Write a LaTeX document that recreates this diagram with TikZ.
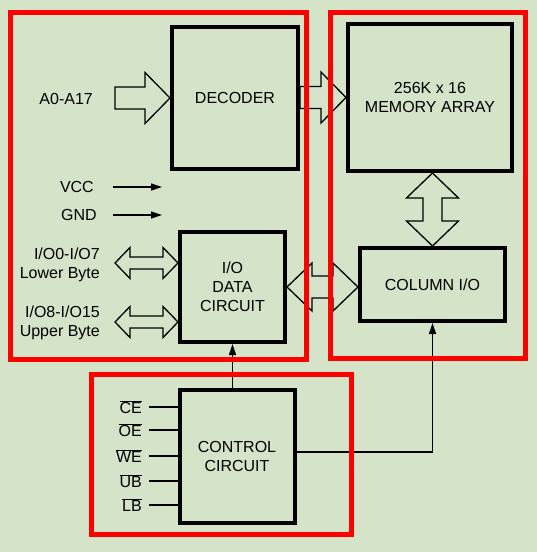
\documentclass[tikz,border=0pt]{standalone}
\usepackage{fontspec}
\setmainfont{Liberation Sans}
\usetikzlibrary{arrows.meta,calc}
\definecolor{bggreen}{RGB}{213,227,201}
\definecolor{framered}{RGB}{255,0,0}

\begin{document}
\begin{tikzpicture}[x=1pt, y=-1pt, >={Triangle[length=11pt,width=7pt]},
  font=\fontsize{16}{19}\selectfont,
  block/.style={draw, line width=4pt, fill=bggreen, align=center, inner sep=0pt},
  frame/.style={draw=framered, line width=5pt},
  fat/.style={draw, line width=1.3pt, fill=bggreen, line join=miter},
  sig/.style={line width=1.3pt},
  lbl/.style={anchor=east, inner sep=0pt, align=right}]
\fill[bggreen] (0,0) rectangle (537,552);
\useasboundingbox (0,0) rectangle (537,552);
% blocks
\node[block, minimum width=126pt, minimum height=142pt] (dec) at (235,98) {DECODER};
\node[block, minimum width=164pt, minimum height=147pt] (mem) at (430,97.5) {256K x 16\\MEMORY ARRAY};
\node[block, minimum width=145pt, minimum height=73pt] (col) at (432.5,284.5) {COLUMN I/O};
\node[block, minimum width=105pt, minimum height=110pt] (iod) at (232.5,287) {I/O\\DATA\\CIRCUIT};
\node[block, minimum width=115pt, minimum height=133pt] (ctl) at (237,456.5) {CONTROL\\CIRCUIT};
% labels on the left
\node[lbl] (addr) at (93,99) {A0-A17};
\node[lbl] (vcc) at (94,187) {VCC};
\node[lbl] (gnd) at (97,215) {GND};
\node[lbl] (lobyte) at (100,265) {I/O0-I/O7\\Lower Byte};
\node[lbl] (upbyte) at (100,323) {I/O8-I/O15\\Upper Byte};
% wide bus arrows
\draw[fat] (dec.west) -- ++(-25,-25.5) -- ++(0,14.5) -- ++(-30,0) -- ++(0,22) -- ++(30,0) -- ++(0,14.5) -- cycle;
\coordinate (dm) at (dec.east |- mem.west);
\draw[fat] (mem.west) -- ++(-25,-25.5) -- ++(0,14.5) -- ($(dm)+(0,-11)$) -- ($(dm)+(0,11)$)
  -- ($(mem.west)+(-25,11)$) -- ++(0,14.5) -- cycle;
\coordinate (mt) at (mem.south -| col.north);
\draw[fat] (mt) -- ++(26,25) -- ++(-16.5,0) -- ($(col.north)+(9.5,-25)$) -- ++(16.5,0) -- (col.north)
  -- ++(-26,-25) -- ++(16.5,0) -- ($(mt)+(-9.5,25)$) -- ++(-16.5,0) -- cycle;
\coordinate (ct) at (col.west |- iod.east);
\draw[fat] (iod.east) -- ++(25,-24) -- ++(0,13) -- ($(ct)+(-25,-11)$) -- ++(0,-13) -- (ct)
  -- ++(-25,24) -- ++(0,-13) -- ($(iod.east)+(25,11)$) -- ++(0,13) -- cycle;
\coordinate (lob) at (115,263); \coordinate (upb) at (115,322);
\foreach \c in {lob,upb}
  {\draw[fat] (\c) -- ++(15,-15.5) -- ++(0,9.5) -- ($(\c -| iod.west)+(-15,-6)$) -- ++(0,-9.5) -- (\c -| iod.west)
     -- ++(-15,15.5) -- ++(0,-9.5) -- ($(\c)+(15,6)$) -- ++(0,9.5) -- cycle;}
% power pins
\draw[sig,->] ($(vcc.east)+(19,0)$) -- ++(49,0);
\draw[sig,->] ($(gnd.east)+(16,0)$) -- ++(49,0);
% control inputs
\foreach \s/\y in {CE/407,OE/430,WE/456,UB/481,LB/505}
  {\node[lbl] (\s) at (142,\y) {$\overline{\mbox{\s}}$};
   \draw[sig] ($(\s.east)+(7,0)$) -- (\s.east -| ctl.west);}
\draw[sig,->] (iod.south |- ctl.north) -- (iod.south);
\draw[sig,->] ($(ctl.east)+(0,-4.5)$) -| (col.south);
% red groups
\draw[frame] (10.5,12.5) rectangle (306,359);
\draw[frame] (330.5,12.5) rectangle (525.5,358);
\draw[frame] (91,374.5) rectangle (351,534.5);
\end{tikzpicture}
\end{document}
